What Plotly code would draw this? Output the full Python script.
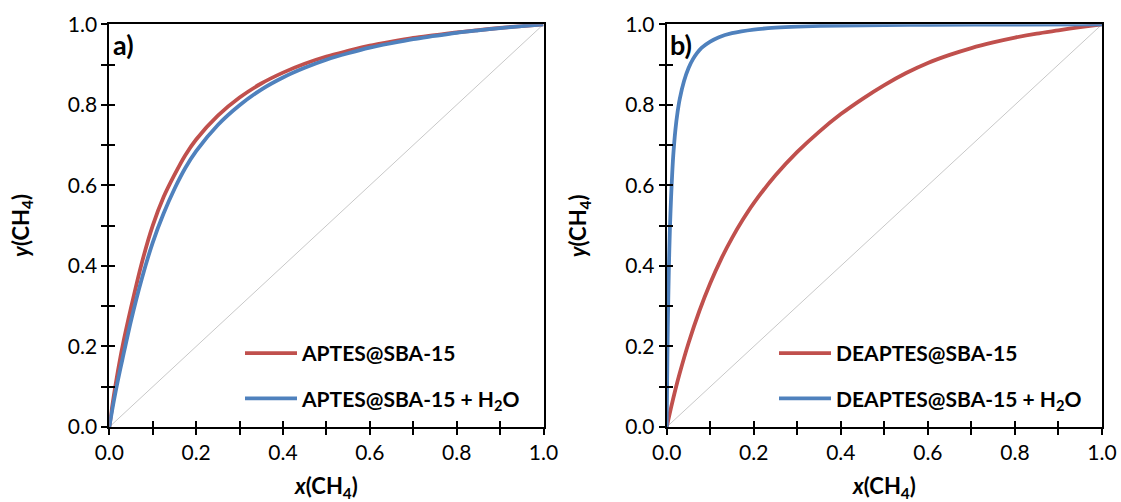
import plotly.graph_objects as go

# ---- data ----
major_vals = [0.0, 0.2, 0.4, 0.6, 0.8, 1.0]
major_text = ["0.0", "0.2", "0.4", "0.6", "0.8", "1.0"]
minor_vals = [0.1, 0.3, 0.5, 0.7, 0.9]
all_vals = [0.0, 0.1, 0.2, 0.3, 0.4, 0.5, 0.6, 0.7, 0.8, 0.9, 1.0]

diag = [0.0, 1.0]

a_x = [0, 0.01, 0.02, 0.03, 0.05, 0.075, 0.1, 0.125, 0.15, 0.175, 0.2, 0.25, 0.3, 0.35, 0.4, 0.45,
       0.5, 0.55, 0.6, 0.65, 0.7, 0.75, 0.8, 0.85, 0.9, 0.95, 1.0]
a_red = [0, 0.075, 0.140, 0.198, 0.296, 0.408, 0.500, 0.571, 0.626, 0.675, 0.714, 0.773, 0.818, 0.853, 0.880, 0.902,
         0.920, 0.934, 0.947, 0.957, 0.966, 0.973, 0.980, 0.9855, 0.991, 0.9956, 1.0]
a_blue = [0, 0.062, 0.117, 0.167, 0.264, 0.369, 0.458, 0.530, 0.591, 0.643, 0.685, 0.750, 0.799, 0.838, 0.868, 0.892,
          0.912, 0.928, 0.942, 0.953, 0.963, 0.971, 0.979, 0.985, 0.9906, 0.9956, 1.0]

b_red_x = [0, 0.01, 0.02, 0.03, 0.05, 0.075, 0.1, 0.125, 0.15, 0.175, 0.2, 0.25, 0.3, 0.35, 0.4, 0.45,
           0.5, 0.55, 0.6, 0.65, 0.7, 0.75, 0.8, 0.85, 0.9, 0.95, 1.0]
b_red = [0, 0.048, 0.093, 0.134, 0.208, 0.288, 0.357, 0.417, 0.469, 0.515, 0.556, 0.625, 0.683, 0.733, 0.777, 0.815,
         0.849, 0.879, 0.904, 0.924, 0.941, 0.955, 0.967, 0.977, 0.985, 0.993, 1.0]

b_blue_x = [0, 0.001, 0.002, 0.003, 0.005, 0.0075, 0.01, 0.0125, 0.015, 0.02, 0.025, 0.03, 0.04, 0.05, 0.06,
            0.07, 0.08, 0.1, 0.12, 0.15, 0.2, 0.25, 0.3, 0.4, 0.5, 0.6, 0.8, 1.0]
b_blue = [0, 0.115, 0.207, 0.281, 0.395, 0.496, 0.568, 0.626, 0.673, 0.738, 0.782, 0.815, 0.860, 0.891, 0.913,
          0.929, 0.9415, 0.957, 0.968, 0.978, 0.987, 0.9915, 0.9942, 0.997, 0.998, 0.9988, 0.9995, 1.0]

names_a = ["APTES@SBA-15", "APTES@SBA-15 + H<sub>2</sub>O"]
names_b = ["DEAPTES@SBA-15", "DEAPTES@SBA-15 + H<sub>2</sub>O"]
panel_labels = ["a)", "b)"]
x_title = "<i>x</i>(CH<sub>4</sub>)"
y_title = "<i>y</i>(CH<sub>4</sub>)"

RED = "#C0504D"
BLUE = "#4F81BD"
GREY = "#C8C8C8"
FONT = "Lato"

W, H = 1121, 502


def px(xs):
    return xs / W


def py(ys):
    return 1 - ys / H


ax_a = (px(109.3), px(543.5))
ax_b = (px(666.7), px(1102.0))
ydom = (py(427.0), py(24.3))

fig = go.Figure()

fig.add_trace(go.Scatter(x=diag, y=diag, mode="lines", line=dict(color=GREY, width=1),
                         showlegend=False, hoverinfo="skip", xaxis="x", yaxis="y"))
fig.add_trace(go.Scatter(x=diag, y=diag, mode="lines", line=dict(color=GREY, width=1),
                         showlegend=False, hoverinfo="skip", xaxis="x2", yaxis="y2"))

LW = 3.8
fig.add_trace(go.Scatter(x=a_x, y=a_red, mode="lines", name=names_a[0],
                         line=dict(color=RED, width=LW, shape="spline", smoothing=0.8),
                         xaxis="x", yaxis="y", legend="legend", legendgroup="a1"))
fig.add_trace(go.Scatter(x=a_x, y=a_blue, mode="lines", name=names_a[1],
                         line=dict(color=BLUE, width=LW, shape="spline", smoothing=0.8),
                         xaxis="x", yaxis="y", legend="legend", legendgroup="a2"))
fig.add_trace(go.Scatter(x=b_red_x, y=b_red, mode="lines", name=names_b[0],
                         line=dict(color=RED, width=LW, shape="spline", smoothing=0.8),
                         xaxis="x2", yaxis="y2", legend="legend2", legendgroup="b1"))
fig.add_trace(go.Scatter(x=b_blue_x, y=b_blue, mode="lines", name=names_b[1],
                         line=dict(color=BLUE, width=LW, shape="spline", smoothing=0.8),
                         xaxis="x2", yaxis="y2", legend="legend2", legendgroup="b2"))

# invisible traces so the inner-tick axes (separate subplots on top) get drawn
fig.add_trace(go.Scatter(x=[None], y=[None], xaxis="x3", yaxis="y3", showlegend=False, hoverinfo="skip"))
fig.add_trace(go.Scatter(x=[None], y=[None], xaxis="x4", yaxis="y4", showlegend=False, hoverinfo="skip"))

tickfont = dict(family=FONT, size=21, color="black")


def main_axis(dom, anchor):
    return dict(domain=dom, anchor=anchor, range=[0, 1], tickmode="array", tickvals=major_vals, ticktext=major_text,
                ticks="outside", ticklen=6, tickwidth=1.5, tickcolor="black",
                minor=dict(tickmode="array", tickvals=minor_vals, ticks="outside", ticklen=6, tickwidth=1.5,
                           tickcolor="black", showgrid=False),
                showline=True, linecolor="black", linewidth=2, mirror=True, automargin=False,
                showgrid=False, zeroline=False, tickfont=tickfont, fixedrange=True)


def inner_axis(dom, anchor):
    return dict(domain=dom, anchor=anchor, range=[0, 1], tickmode="array", tickvals=all_vals,
                showticklabels=False, automargin=False,
                ticks="inside", ticklen=6, tickwidth=1.5, tickcolor="black",
                showline=False, showgrid=False, zeroline=False, fixedrange=True)


legend_font = dict(family=FONT, size=21, color="black", weight="bold")
title_font = dict(family=FONT, size=22, color="black", weight="bold")

annotations = []
for dom, lab in [(ax_a, panel_labels[0]), (ax_b, panel_labels[1])]:
    cx = (dom[0] + dom[1]) / 2
    annotations.append(dict(text=x_title, x=cx, y=py(487), xref="paper", yref="paper",
                            xanchor="center", yanchor="middle", showarrow=False, font=title_font))
    annotations.append(dict(text=y_title, x=dom[0] - 88 / W, y=(ydom[0] + ydom[1]) / 2, xref="paper", yref="paper",
                            xanchor="center", yanchor="middle", textangle=-90, showarrow=False, font=title_font))
    annotations.append(dict(text=lab, x=dom[0] + 1.5 / W, y=py(26), xref="paper", yref="paper",
                            xanchor="left", yanchor="top", showarrow=False,
                            font=dict(family=FONT, size=27, color="black", weight="bold")))

fig.update_layout(
    width=W, height=H,
    margin=dict(l=0, r=0, t=0, b=0),
    paper_bgcolor="white", plot_bgcolor="rgba(0,0,0,0)",
    xaxis=main_axis(ax_a, "y"),
    yaxis=main_axis(ydom, "x"),
    xaxis2=main_axis(ax_b, "y2"),
    yaxis2=main_axis(ydom, "x2"),
    xaxis3=inner_axis(ax_a, "y3"),
    yaxis3=inner_axis(ydom, "x3"),
    xaxis4=inner_axis(ax_b, "y4"),
    yaxis4=inner_axis(ydom, "x4"),
    legend=dict(x=px(240), y=py(333), xanchor="left", yanchor="top", bgcolor="rgba(0,0,0,0)",
                font=legend_font, tracegroupgap=15, itemwidth=52),
    legend2=dict(x=px(774), y=py(333), xanchor="left", yanchor="top", bgcolor="rgba(0,0,0,0)",
                 font=legend_font, tracegroupgap=15, itemwidth=52),
    annotations=annotations,
)

fig.write_html("out.html", config={"displayModeBar": False},
               post_script="document.body.style.margin='0px';document.body.style.overflow='hidden';")
